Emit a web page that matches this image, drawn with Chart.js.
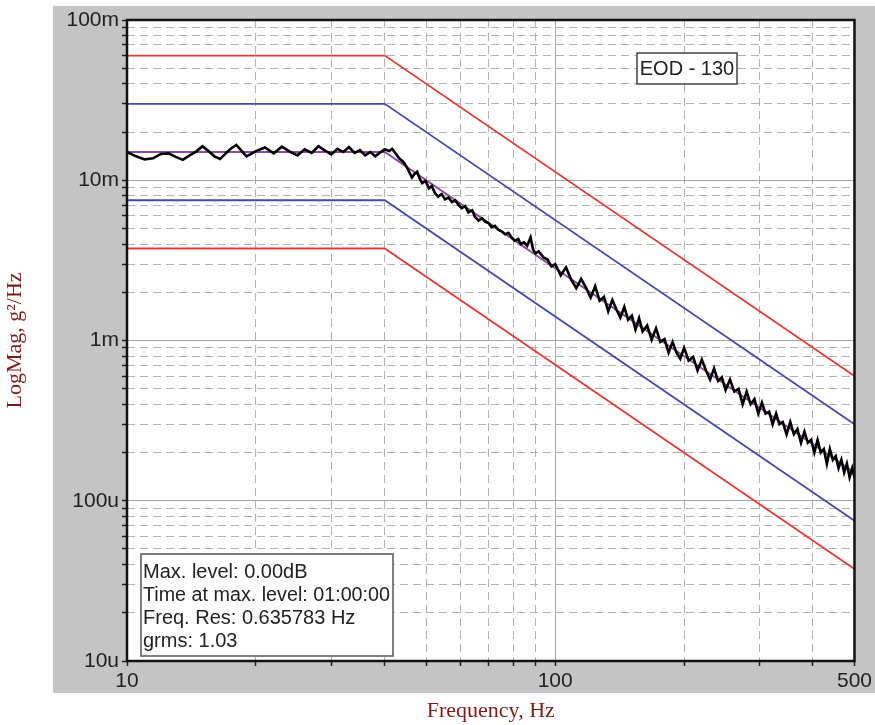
<!DOCTYPE html>
<html>
<head>
<meta charset="utf-8">
<script src="https://cdn.jsdelivr.net/npm/chart.js@4.4.0/dist/chart.umd.min.js"></script>
<style>
html, body { margin: 0; padding: 0; background: #fff; }
#wrap { width: 875px; height: 725px; position: relative; }
</style>
</head>
<body>
<div id="wrap"><canvas id="myChart" width="875" height="725"></canvas></div>
<script>
// measured PSD (g^2/Hz) vs frequency (Hz)
const blackFreq = [10,10.5,11,11.5,12,12.5,13,13.5,14,14.5,15,15.5,16,16.5,17,17.5,18,18.5,19,19.5,
  20,21,22,23,24,25,26,27,28,29,30,31,32,33,34,35,36,37,38,39,
  40,41,41.6,42.5,43.2,44.2,45,46.3,47,47.6,48.3,48.9,49.8,50.7,51.5,52.4,53.3,54.3,55.3,56.3,
  57.4,58.4,59.5,60.5,61.6,62.7,64,65,66.2,67.5,68.7,69.9,71,72.3,73.7,75,76.4,77.8,79.1,80.5,
  82,83,84.6,86,87.6,88.8,89.9,91.5,93.9,96,98,
  100,103,106,109,112,115,118,121,124,127,130,133,136,139,142,145,148,151,154,157,
  160,164,168,172,176,180,184,188,192,196,200,205,210,215,220,225,230,235,240,245,
  250,256,262,268,274,280,286,292,298,304,310,316,322,328,334,340,347,354,361,368,
  375,382,389,396,403,410,417,424,431,438,445,452,459,466,473,480,487,494,500]
const blackPsd = [0.0150,0.0141,0.0135,0.0137,0.0146,0.0147,0.0140,0.0134,0.0143,0.0151,0.0163,0.0152,0.0141,0.0136,0.0147,0.0158,0.0166,0.0153,0.0141,0.0146,
  0.0152,0.0160,0.0147,0.0162,0.0151,0.0143,0.0156,0.0148,0.0163,0.0153,0.0145,0.0157,0.0150,0.0161,0.0148,0.0154,0.0143,0.0150,0.0141,0.0149,
  0.0156,0.0152,0.0157,0.0146,0.0137,0.0130,0.0121,0.0104,0.0110,0.0113,0.0102,0.0096,0.0099,0.0089,0.0092,0.0083,0.0079,0.0082,0.0076,0.0078,
  0.0073,0.0075,0.0070,0.0067,0.0069,0.0063,0.0065,0.0059,0.0056,0.0058,0.0055,0.0054,0.0051,0.0052,0.0049,0.0048,0.0046,0.0047,0.0044,0.0042,
  0.0043,0.0040,0.0041,0.0039,0.0044,0.0037,0.0035,0.0036,0.0033,0.0032,0.0029,
  0.0030,0.00255,0.00286,0.0024,0.00212,0.00242,0.00214,0.00185,0.00218,0.00177,0.00187,0.00152,0.00179,0.00156,0.00139,0.00162,0.00135,0.00143,0.00117,0.00138,
  0.00114,0.00124,0.00101,0.00119,0.00098,0.00102,0.00084,0.00098,0.00084,0.00077,0.0009,0.00075,0.00079,0.00065,0.00076,0.00065,0.00057,0.00067,0.00056,0.00059,
  0.00049,0.00057,0.00048,0.0005,0.0004,0.00048,0.0004,0.00043,0.00035,0.00041,0.00035,0.00036,0.0003,0.00035,0.0003,0.00031,0.00026,0.00031,0.00026,0.00028,
  0.00023,0.00027,0.00023,0.00024,0.0002,0.00024,0.0002,0.00021,0.00017,0.00021,0.00018,0.00019,0.00016,0.00018,0.00015,0.00017,0.00014,0.00016,0.00014]

// test profile: reference, alarm (blue) and abort (red) limits
const profileFreq = [10, 40, 500]
const referencePsd = [0.015, 0.015, 0.00015]
const alarmHighPsd = [0.03, 0.03, 0.0003]
const alarmLowPsd = [0.0075, 0.0075, 0.000075]
const abortLowPsd = [0.00375, 0.00375, 0.0000375]
const abortHighFreq = [10, 10, 40, 500]
const abortHighPsd = [0.00001, 0.06, 0.06, 0.0006]

// axes
const xTickValues = [10,20,30,40,50,60,70,80,90,100,200,300,400,500]
const xLabelValues = [10, 100, 500]
const xLabels = ['10', '100', '500']
const yTickValues = [0.00001,0.00002,0.00003,0.00004,0.00005,0.00006,0.00007,0.00008,0.00009,
  0.0001,0.0002,0.0003,0.0004,0.0005,0.0006,0.0007,0.0008,0.0009,
  0.001,0.002,0.003,0.004,0.005,0.006,0.007,0.008,0.009,
  0.01,0.02,0.03,0.04,0.05,0.06,0.07,0.08,0.09,0.1]
const yLabelValues = [0.00001, 0.0001, 0.001, 0.01, 0.1]
const yLabels = ['10u', '100u', '1m', '10m', '100m']

const infoLines = ['Max. level: 0.00dB', 'Time at max. level: 01:00:00', 'Freq. Res: 0.635783 Hz', 'grms: 1.03']
const tagText = 'EOD - 130'

function pts(xs, ys) {
    return xs.map((x, i) => ({x: x, y: ys[i]}))
}

function isDecade(v) {
    const l = Math.log10(v)
    return Math.abs(l - Math.round(l)) < 1e-6
}

const panelPlugin = {
    id: 'panel',
    beforeDraw(chart) {
        const ctx = chart.ctx
        const a = chart.chartArea
        ctx.save()
        ctx.fillStyle = '#c4c4c4'
        ctx.fillRect(53, 6, 822, 687)
        ctx.fillStyle = '#fff'
        ctx.fillRect(a.left, a.top, a.right - a.left, a.bottom - a.top)
        ctx.restore()
    },
    afterDraw(chart) {
        const ctx = chart.ctx
        const a = chart.chartArea
        ctx.save()
        // frame
        ctx.strokeStyle = '#111'
        ctx.lineWidth = 2.5
        ctx.strokeRect(a.left, a.top, a.right - a.left, a.bottom - a.top)

        // tag box
        ctx.fillStyle = '#fff'
        ctx.fillRect(637, 53, 100, 31)
        ctx.strokeStyle = '#444'
        ctx.lineWidth = 1.5
        ctx.strokeRect(637, 53, 100, 31)
        ctx.fillStyle = '#222'
        ctx.font = '20px "Liberation Sans", Arial, sans-serif'
        ctx.textAlign = 'center'
        ctx.textBaseline = 'middle'
        ctx.fillText(tagText, 687, 69)

        // info box
        ctx.fillStyle = '#fff'
        ctx.fillRect(141, 554, 252, 102)
        ctx.strokeStyle = '#555'
        ctx.strokeRect(141, 554, 252, 102)
        ctx.fillStyle = '#222'
        ctx.textAlign = 'left'
        ctx.font = '20px "Liberation Sans", Arial, sans-serif'
        infoLines.forEach((t, i) => ctx.fillText(t, 143, 572 + i * 23.2, 247))
        ctx.restore()
    }
}

const lineDefaults = {pointRadius: 0, tension: 0, fill: false}

new Chart('myChart', {
    type: 'line',
    data: {
        datasets: [
            {...lineDefaults, label: 'measured', data: pts(blackFreq, blackPsd), borderColor: '#000', borderWidth: 2.6},
            {...lineDefaults, label: 'reference', data: pts(profileFreq, referencePsd), borderColor: '#8a4c9c', borderWidth: 2},
            {...lineDefaults, label: 'alarm high', data: pts(profileFreq, alarmHighPsd), borderColor: '#4a4aa6', borderWidth: 1.8},
            {...lineDefaults, label: 'alarm low', data: pts(profileFreq, alarmLowPsd), borderColor: '#4a4aa6', borderWidth: 1.8},
            {...lineDefaults, label: 'abort high', data: pts(abortHighFreq, abortHighPsd), borderColor: '#e03c3c', borderWidth: 1.8},
            {...lineDefaults, label: 'abort low', data: pts(profileFreq, abortLowPsd), borderColor: '#e03c3c', borderWidth: 1.8}
        ]
    },
    options: {
        responsive: false,
        animation: false,
        layout: {padding: {top: 20, right: 18, left: 0, bottom: 0}},
        plugins: {legend: {display: false}, tooltip: {enabled: false}},
        scales: {
            x: {
                type: 'logarithmic',
                min: 10,
                max: 500,
                afterFit: (scale) => { scale.height = 64 },
                afterBuildTicks: (scale) => { scale.ticks = xTickValues.map(v => ({value: v})) },
                ticks: {
                    autoSkip: false,
                    maxRotation: 0,
                    padding: 3,
                    color: '#222',
                    font: {size: 21, family: '"Liberation Sans", Arial, sans-serif'},
                    callback: (v) => {
                        const i = xLabelValues.indexOf(v)
                        return i >= 0 ? xLabels[i] : ''
                    }
                },
                grid: {
                    color: (c) => isDecade(c.tick.value) ? '#a6a6a6' : '#b2b2b2',
                    lineWidth: 1,
                    tickLength: 5,
                    tickColor: '#222',
                    tickWidth: 1.5
                },
                border: {display: false, dash: (c) => isDecade(c.tick.value) ? [] : [8, 5]},
                title: {
                    display: true,
                    text: 'Frequency, Hz',
                    color: '#7b1c1c',
                    padding: {top: 0, bottom: 1},
                    font: {size: 22, family: '"Liberation Serif", "DejaVu Serif", serif'}
                }
            },
            y: {
                type: 'logarithmic',
                min: 0.00001,
                max: 0.1,
                afterFit: (scale) => { scale.width = 127 },
                afterBuildTicks: (scale) => { scale.ticks = yTickValues.map(v => ({value: v})) },
                ticks: {
                    autoSkip: false,
                    padding: 3,
                    color: '#222',
                    font: {size: 21, family: '"Liberation Sans", Arial, sans-serif'},
                    callback: (v) => {
                        const i = yLabelValues.indexOf(v)
                        return i >= 0 ? yLabels[i] : ''
                    }
                },
                grid: {
                    color: (c) => isDecade(c.tick.value) ? '#a6a6a6' : '#b2b2b2',
                    lineWidth: 1,
                    tickLength: 5,
                    tickColor: '#222',
                    tickWidth: 1.5
                },
                border: {display: false, dash: (c) => isDecade(c.tick.value) ? [] : [8, 5]},
                title: {
                    display: true,
                    text: 'LogMag, g²/Hz',
                    color: '#7b1c1c',
                    padding: {top: 2, bottom: 0},
                    font: {size: 22, family: '"Liberation Serif", "DejaVu Serif", serif'}
                }
            }
        }
    },
    plugins: [panelPlugin]
})
</script>
</body>
</html>
